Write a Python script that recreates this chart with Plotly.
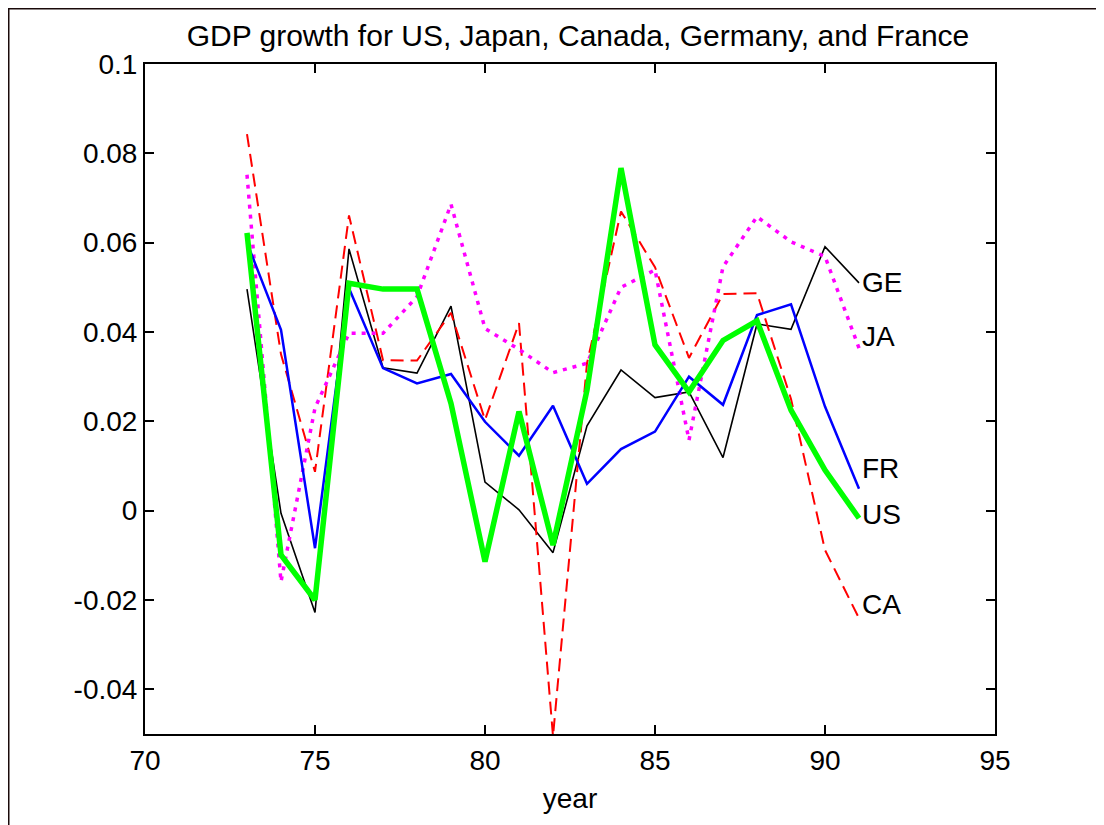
import plotly.graph_objects as go

years = list(range(73, 92))
US = [0.0622, -0.0099, -0.0200, 0.0509, 0.0496, 0.0496, 0.0240, -0.0114, 0.0222, -0.0077,
      0.0270, 0.0767, 0.0371, 0.0266, 0.0381, 0.0425, 0.0225, 0.0091, -0.0017]
FR = [0.0600, 0.0405, -0.0084, 0.0498, 0.0319, 0.0285, 0.0306, 0.0199, 0.0123, 0.0235,
      0.0060, 0.0138, 0.0177, 0.0300, 0.0237, 0.0438, 0.0462, 0.0233, 0.0049]
GE = [0.0496, -0.0006, -0.0228, 0.0586, 0.0320, 0.0308, 0.0458, 0.0064, 0.0002, -0.0094,
      0.0190, 0.0315, 0.0253, 0.0266, 0.0119, 0.0418, 0.0406, 0.0591, 0.0510]
CA = [0.0843, 0.0350, 0.0087, 0.0661, 0.0337, 0.0336, 0.0443, 0.0203, 0.0420, -0.0505,
      0.0330, 0.0670, 0.0545, 0.0342, 0.0485, 0.0487, 0.0250, -0.0088, -0.0241]
JA = [0.0752, -0.0159, 0.0230, 0.0397, 0.0397, 0.0479, 0.0686, 0.0408, 0.0361, 0.0309,
      0.0330, 0.0500, 0.0539, 0.0158, 0.0546, 0.0658, 0.0602, 0.0569, 0.0364]

label_names = ["GE", "JA", "FR", "US", "CA"]
label_y = [0.0510, 0.0390, 0.0095, -0.0008, -0.0210]

x_ticks = [70, 75, 80, 85, 90, 95]
y_ticks = [-0.04, -0.02, 0, 0.02, 0.04, 0.06, 0.08, 0.1]
y_tick_text = ["-0.04", "-0.02", "0", "0.02", "0.04", "0.06", "0.08", "0.1"]

FONT = "Liberation Sans, Arial, Helvetica, sans-serif"

# page body has an 8px margin; figure sized/margined to compensate
W, H = 1096, 817
ML, MT, PW, PH = 137, 56, 850, 670
MR, MB = W - ML - PW, H - MT - PH

fig = go.Figure()
fig.add_trace(go.Scatter(x=years, y=GE, mode="lines", line=dict(color="#000000", width=1.6)))
fig.add_trace(go.Scatter(x=years, y=CA, mode="lines", line=dict(color="#FF0000", width=2, dash="13px,7px")))
fig.add_trace(go.Scatter(x=years, y=JA, mode="lines", line=dict(color="#FF00FF", width=3.5, dash="4px,6px")))
fig.add_trace(go.Scatter(x=years, y=FR, mode="lines", line=dict(color="#0000FF", width=2.5)))
fig.add_trace(go.Scatter(x=years, y=US, mode="lines", line=dict(color="#00FF00", width=5.5)))

for name, yy in zip(label_names, label_y):
    fig.add_annotation(x=years[-1], y=yy, text=name, showarrow=False, xanchor="left",
                       yanchor="middle", xshift=1, font=dict(family=FONT, size=28, color="black"))

axis_common = dict(showgrid=False, zeroline=False, showline=True, linecolor="black", linewidth=2,
                   mirror="ticks", ticks="inside", ticklen=9, tickwidth=1.5, tickcolor="black",
                   automargin=False,
                   tickfont=dict(family=FONT, size=28, color="black"))

fig.update_layout(
    width=W, height=H,
    margin=dict(l=ML, r=MR, t=MT, b=MB, autoexpand=False),
    paper_bgcolor="white", plot_bgcolor="white",
    showlegend=False,
    title=dict(text="GDP growth for US, Japan, Canada, Germany, and France",
               x=(578 - 145) / PW, xref="paper", xanchor="center",
               y=1 - 27 / H, yref="container", yanchor="middle",
               font=dict(family=FONT, size=30, color="black")),
    xaxis=dict(range=[70, 95], tickvals=x_ticks, ticktext=[str(v) for v in x_ticks],
               title=dict(text="year", font=dict(family=FONT, size=28, color="black"), standoff=14),
               **axis_common),
    yaxis=dict(range=[-0.05, 0.1], tickvals=y_ticks, ticktext=y_tick_text, **axis_common),
    shapes=[dict(type="rect", xref="paper", yref="paper",
                 x0=-(ML - 0.5) / PW, x1=1 + (MR - 2.5) / PW, y0=-(MB + 5) / PH, y1=1 + (MT - 0.5) / PH,
                 line=dict(color="#1a0a0a", width=2), fillcolor="rgba(0,0,0,0)", layer="above")],
)

fig.write_html("out.html")
